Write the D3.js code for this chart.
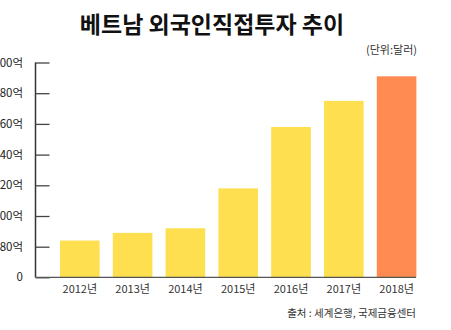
<!DOCTYPE html>
<html><head><meta charset="utf-8">
<script src="https://cdn.jsdelivr.net/npm/d3@7"></script>
<style>
body{margin:0;background:#fff;}
svg{display:block;font-family:"Noto Sans CJK KR","Noto Sans",sans-serif;}
</style></head>
<body>
<svg id="chart" width="451" height="330"></svg>
<script>
const categories = ["2012년","2013년","2014년","2015년","2016년","2017년","2018년"];
const values = [84, 89, 92, 118, 158, 175, 191];
const tickValues = [0, 80, 100, 120, 140, 160, 180, 200];
const tickLabels = ["0","80억","100억","120억","140억","160억","180억","200억"];
const title = "베트남 외국인직접투자 추이";
const unit = "(단위:달러)";
const source = "출처 : 세계은행, 국제금융센터";

const svg = d3.select("#chart");
const x = d3.scaleBand().domain(categories).range([41, 435.4]).paddingInner(0.25).paddingOuter(0.36);
// broken axis: 0 then 80..200
const y = d3.scaleLinear().domain([0, 80, 200]).range([277.3, 246.7, 62.5]);

svg.append("text").attr("x", 212).attr("y", 33).attr("text-anchor","middle")
  .attr("font-size", 23).attr("font-weight","bold").attr("fill","#111").text(title);
svg.append("text").attr("x", 417).attr("y", 54).attr("text-anchor","end")
  .attr("font-size", 11).attr("fill","#333").text(unit);

svg.append("g").selectAll("rect").data(values).join("rect")
  .attr("x", (d,i)=>x(categories[i])).attr("width", x.bandwidth())
  .attr("y", d=>y(d)).attr("height", d=>y(0)-y(d))
  .attr("fill", (d,i)=> i===values.length-1 ? "#FF8A52" : "#FDDF50");

const yAxis = d3.axisRight(y).tickValues(tickValues).tickSize(14).tickFormat("");
const gy = svg.append("g").attr("transform","translate(35.5,0)").call(yAxis);
gy.select(".domain").attr("stroke","#333").attr("stroke-width",1.5).attr("d","M0,62.5V277.3");
gy.selectAll(".tick line").attr("stroke","#444").attr("stroke-width",1.3);

svg.append("g").selectAll("text").data(tickValues).join("text")
  .attr("x", 23).attr("y", d=>y(d)).attr("dy","0.35em").attr("text-anchor","end")
  .attr("font-size", 11.5).attr("fill","#222").text((d,i)=>tickLabels[i]);

const xAxis = d3.axisBottom(x).tickSize(0).tickPadding(8);
const gx = svg.append("g").attr("transform","translate(0,277.3)").call(xAxis);
gx.select(".domain").attr("stroke","#555").attr("stroke-width",1.3).attr("d","M35.5,0H416");
gx.selectAll("text").attr("font-size", 11).attr("fill","#333").attr("font-family","\"Noto Sans CJK KR\",sans-serif");

svg.append("text").attr("x", 416).attr("y", 317).attr("text-anchor","end")
  .attr("font-size", 10.5).attr("fill","#333").text(source);
</script>
</body></html>
